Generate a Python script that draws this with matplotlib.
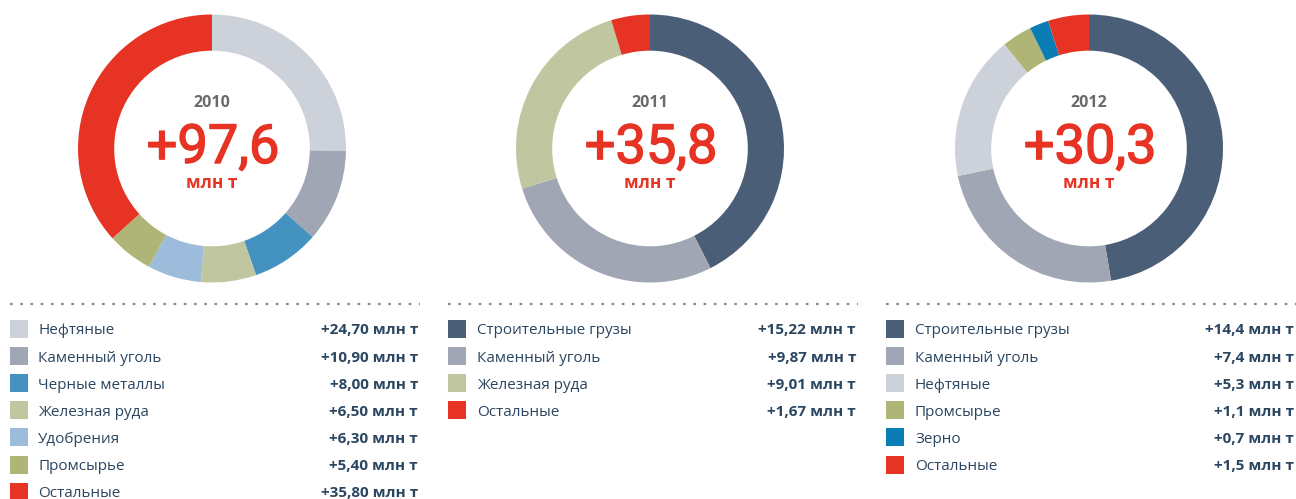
import matplotlib
matplotlib.use("Agg")
import matplotlib.pyplot as plt
import matplotlib.patheffects as pe
from matplotlib.patches import Rectangle

# --- data -------------------------------------------------------------
years = ["2010", "2011", "2012"]
totals = ["+97,6", "+35,8", "+30,3"]

cats_2010 = ["Нефтяные", "Каменный уголь", "Черные металлы", "Железная руда",
             "Удобрения", "Промсырье", "Остальные"]
vals_2010 = [24.70, 10.90, 8.00, 6.50, 6.30, 5.40, 35.80]
labels_2010 = ["+24,70", "+10,90", "+8,00", "+6,50", "+6,30", "+5,40", "+35,80"]

cats_2011 = ["Строительные грузы", "Каменный уголь", "Железная руда", "Остальные"]
vals_2011 = [15.22, 9.87, 9.01, 1.67]
labels_2011 = ["+15,22", "+9,87", "+9,01", "+1,67"]

cats_2012 = ["Строительные грузы", "Каменный уголь", "Нефтяные", "Промсырье",
             "Зерно", "Остальные"]
vals_2012 = [14.4, 7.4, 5.3, 1.1, 0.7, 1.5]
labels_2012 = ["+14,4", "+7,4", "+5,3", "+1,1", "+0,7", "+1,5"]

unit = "млн т"

# --- styling ----------------------------------------------------------
palette = {
    "Нефтяные": "#cdd1da",
    "Каменный уголь": "#a0a6b3",
    "Черные металлы": "#4392c0",
    "Железная руда": "#c0c7a0",
    "Удобрения": "#9dbcdb",
    "Промсырье": "#afb577",
    "Остальные": "#e63323",
    "Строительные грузы": "#4a5f77",
    "Зерно": "#0a7db5",
}
RED = "#e63323"
TEXT = "#2b4660"
GREY = "#6a6a6a"
FONT = ["Open Sans", "DejaVu Sans"]
BIG_FONT = ["Roboto", "DejaVu Sans"]

W, H = 1296, 499
fig = plt.figure(figsize=(W / 100, H / 100), dpi=100)
fig.patch.set_facecolor("white")

# overlay axes in pixel coordinates for legends and rules
ov = fig.add_axes([0, 0, 1, 1], zorder=5)
ov.set_xlim(0, W)
ov.set_ylim(H, 0)
ov.axis("off")
ov.patch.set_alpha(0)

panels = [
    dict(cx=212, cats=cats_2010, vals=vals_2010, labels=labels_2010,
         left=10, right=418, text_x=38),
    dict(cx=650, cats=cats_2011, vals=vals_2011, labels=labels_2011,
         left=448, right=856, text_x=477),
    dict(cx=1089, cats=cats_2012, vals=vals_2012, labels=labels_2012,
         left=886, right=1294, text_x=915),
]

CY = 148.5
R = 134
RING = 0.27
row_y0 = 329
row_dy = 27.1

for year, total, p in zip(years, totals, panels):
    # donut
    ax = fig.add_axes([(p["cx"] - R) / W, (H - CY - R) / H, 2 * R / W, 2 * R / H])
    ax.pie(p["vals"], colors=[palette[c] for c in p["cats"]],
           startangle=90, counterclock=False,
           wedgeprops=dict(width=RING, linewidth=0))
    ax.set_xlim(-1, 1)
    ax.set_ylim(-1, 1)
    ax.set_aspect("equal")

    # centre labels
    ov.text(p["cx"], 107, year, ha="center", va="baseline", color=GREY,
            fontsize=11.5, fontweight="bold", family=FONT)
    ov.text(p["cx"] + 1, 163, total, ha="center", va="baseline", color=RED,
            fontsize=39, fontweight="normal", family=BIG_FONT,
            path_effects=[pe.withStroke(linewidth=1.0, foreground=RED)])
    ov.text(p["cx"], 188, unit, ha="center", va="baseline", color=RED,
            fontsize=12.5, fontweight="bold", family=FONT)

    # dotted rule
    ov.plot([p["left"], p["right"] + 2], [304, 304], color="#7f8c99",
            linewidth=1.6, linestyle=(0, (1.2, 3.4)), dash_capstyle="butt")

    # legend rows
    for i, (c, lab) in enumerate(zip(p["cats"], p["labels"])):
        y = row_y0 + i * row_dy
        ov.add_patch(Rectangle((p["left"], y - 9), 18, 18,
                               facecolor=palette[c], edgecolor="none"))
        ov.text(p["text_x"], y + 5.5, c, ha="left", va="baseline", color=TEXT,
                fontsize=11, family=FONT)
        ov.text(p["right"], y + 5.5, f"{lab} {unit}", ha="right", va="baseline",
                color=TEXT, fontsize=11, fontweight="bold", family=FONT)

fig.savefig("out.png", dpi=100, facecolor="white")
